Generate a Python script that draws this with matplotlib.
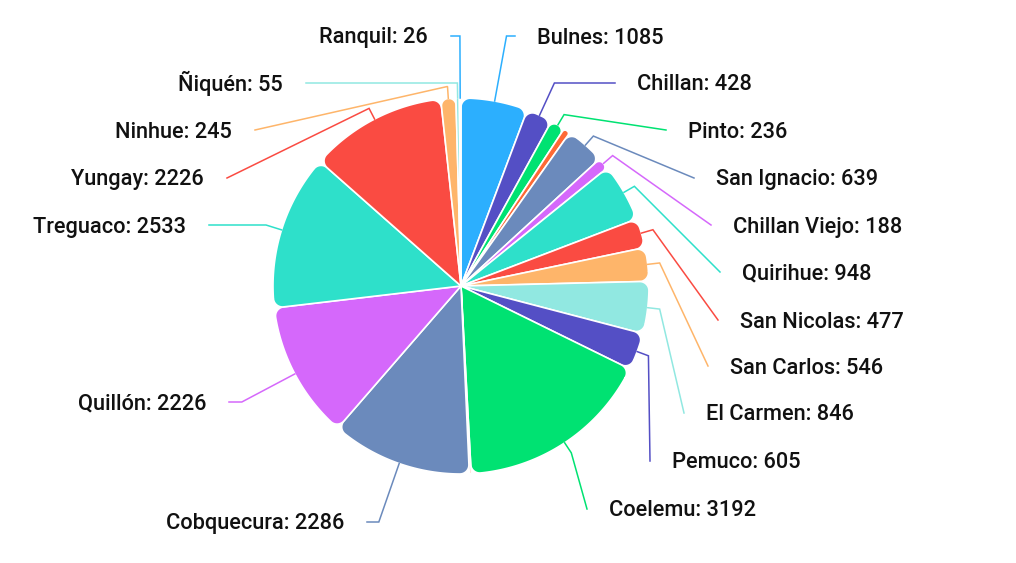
import numpy as np
import matplotlib.pyplot as plt
from matplotlib.path import Path
from matplotlib.patches import PathPatch

# datos: casos por comuna (orden horario desde arriba)
comunas = ['Bulnes', 'Chillan', 'Pinto', None, 'San Ignacio', 'Chillan Viejo',
           'Quirihue', 'San Nicolas', 'San Carlos', 'El Carmen', None, 'Pemuco',
           'Coelemu', None, 'Cobquecura', 'Quillón', 'Treguaco', 'Yungay',
           'Ninhue', 'Ñiquén', 'Ranquil']
casos = [1085, 428, 236, 110, 639, 188, 948, 477, 546, 846, 0, 605,
         3192, 30, 2286, 2226, 2533, 2226, 245, 55, 26]
paleta = ['#2caffe', '#544fc5', '#00e272', '#fe6a35', '#6b8abc',
          '#d568fb', '#2ee0ca', '#fa4b42', '#feb56a', '#91e8e1']

# posicion de etiquetas (pixeles de imagen: lado, x del texto, y del centro)
etiquetas = {
    'Bulnes': ('r', 537, 36), 'Chillan': ('r', 637, 83), 'Pinto': ('r', 688, 130),
    'San Ignacio': ('r', 716, 178), 'Chillan Viejo': ('r', 733, 225),
    'Quirihue': ('r', 742, 272), 'San Nicolas': ('r', 740, 320),
    'San Carlos': ('r', 730, 366), 'El Carmen': ('r', 706, 413),
    'Pemuco': ('r', 672, 461), 'Coelemu': ('r', 609, 509),
    'Ranquil': ('l', 428, 36), 'Ñiquén': ('l', 283, 83), 'Ninhue': ('l', 232, 130),
    'Yungay': ('l', 204, 178), 'Treguaco': ('l', 186, 225),
    'Quillón': ('l', 206, 402), 'Cobquecura': ('l', 344, 522),
}

W, H = 1016, 563
CX, CY = 461, 286   # centro (imagen)
R = 188
RC = 9              # radio de esquinas

plt.rcParams['font.family'] = ['Roboto', 'DejaVu Sans']


def u(deg):
    t = np.radians(deg)
    return np.array([np.cos(t), np.sin(t)])


def sector_redondeado(c, a, b, r, rc):
    span = np.radians(b - a)
    s = np.sin(span / 2)
    rc = min(rc, r * s / (1 + s) * 0.98)
    phi = np.degrees(np.arcsin(rc / (r - rc)))
    pts = [c]
    t1 = np.linspace(a - 90, a + phi, 12)
    pts += [c + (r - rc) * u(a + phi) + rc * u(t) for t in t1]
    t2 = np.linspace(a + phi, b - phi, max(int(b - a) * 2, 2))
    pts += [c + r * u(t) for t in t2]
    t3 = np.linspace(b - phi, b + 90, 12)
    pts += [c + (r - rc) * u(b - phi) + rc * u(t) for t in t3]
    pts.append(c)
    return np.array(pts)


fig = plt.figure(figsize=(W / 100, H / 100), dpi=100)
ax = fig.add_axes([0, 0, 1, 1])
centro = np.array([CX, H - CY], dtype=float)
colores = [paleta[i % len(paleta)] for i in range(len(casos))]
wedges, _ = ax.pie(casos, colors=colores, startangle=90, counterclock=False,
                   radius=R, center=tuple(centro))

for w, col, nombre, valor in zip(wedges, colores, comunas, casos):
    w.set_visible(False)
    if valor <= 0:
        continue
    poly = sector_redondeado(centro, w.theta1, w.theta2, R, RC)
    ax.add_patch(PathPatch(Path(poly), facecolor=col, edgecolor='white',
                           lw=1.2, joinstyle='round'))
    if nombre is None:
        continue
    lado, tx, ty = etiquetas[nombre]
    mid = (w.theta1 + w.theta2) / 2
    d = u(mid)
    t = centro + R * d
    b = centro + (R + 12) * d
    ty_d = H - ty
    if lado == 'r':
        e = np.array([tx - 22, ty_d])
        ha = 'left'
    else:
        e = np.array([tx + 23, ty_d])
        ha = 'right'
    pts = [t, b]
    # quiebre: prolongar radialmente hasta la altura de la etiqueta
    dy = ty_d - centro[1]
    if abs(dy) > abs(b[1] - centro[1]) and np.sign(dy) == np.sign(d[1]):
        k = centro + (dy / d[1]) * d
        if (lado == 'r' and k[0] < e[0]) or (lado == 'l' and k[0] > e[0]):
            pts = [t, k]
    pts.append(e)
    pts = np.array(pts)
    ax.plot(pts[:, 0], pts[:, 1], color=col, lw=1.1, solid_joinstyle='miter')
    ax.text(tx, ty_d - 7.5, f'{nombre}: {valor}', ha=ha, va='baseline',
            fontsize=15.7, fontweight='medium', color='#111111')

ax.set_xlim(0, W)
ax.set_ylim(0, H)
ax.set_aspect('equal')
ax.axis('off')
fig.savefig('out.png', dpi=100, facecolor='white')
